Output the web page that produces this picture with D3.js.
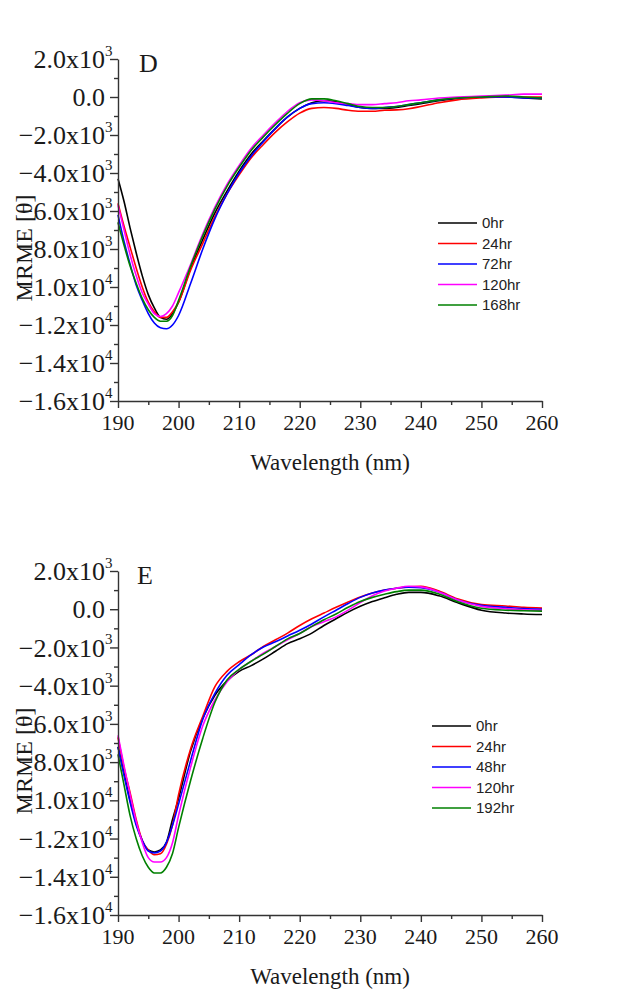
<!DOCTYPE html>
<html>
<head>
<meta charset="utf-8">
<script src="https://cdn.jsdelivr.net/npm/d3@7"></script>
<style>
  body { margin: 0; background: #fff; }
  .axis path, .axis line { stroke: #333; stroke-width: 1.4; }
  .tick-label { font-family: "Liberation Serif", "Times New Roman", serif; fill: #1a1a1a; }
  .legend text { font-family: "Liberation Sans", Arial, sans-serif; font-size: 15px; fill: #222; }
</style>
</head>
<body>
<div id="chart"></div>
<script>
// wavelength grid (nm), shared by both panels
const wavelength = [190,191,192,193,194,195,196,197,198,199,200,202,204,206,208,210,212,214,216,218,220,222,224,226,228,230,232,234,236,238,240,243,246,250,254,257,260];

// panel D
const dLabels = ["0hr", "24hr", "72hr", "120hr", "168hr"];
const d0hr   = [-4300,-5500,-6900,-8200,-9400,-10400,-11100,-11600,-11700,-11400,-10800,-9000,-7500,-6100,-4950,-3900,-3000,-2300,-1650,-1050,-600,-300,-200,-250,-400,-550,-600,-600,-550,-450,-350,-200,-80,0,0,-50,-100];
const d24hr  = [-5600,-6800,-7900,-9000,-10000,-10800,-11300,-11600,-11600,-11300,-10800,-9100,-7700,-6300,-5100,-4100,-3200,-2500,-1850,-1300,-850,-600,-550,-600,-700,-750,-750,-700,-680,-620,-500,-300,-150,-50,0,0,0];
const d72hr  = [-6200,-7600,-8800,-9900,-10700,-11400,-11900,-12150,-12200,-12000,-11500,-9800,-8000,-6400,-5100,-4000,-3100,-2350,-1650,-1050,-600,-350,-300,-350,-450,-550,-600,-550,-500,-400,-300,-150,-50,0,0,-50,-50];
const d120hr = [-5700,-7000,-8300,-9400,-10300,-10900,-11400,-11550,-11400,-11000,-10300,-8800,-7200,-5800,-4600,-3600,-2700,-2000,-1350,-750,-300,-150,-200,-300,-350,-400,-400,-350,-300,-200,-150,-50,0,50,100,150,150];
const d168hr = [-6600,-7800,-8900,-9800,-10600,-11200,-11600,-11800,-11800,-11500,-10700,-8900,-7300,-5900,-4700,-3700,-2800,-2100,-1450,-850,-350,-100,-100,-200,-350,-500,-550,-550,-500,-400,-300,-150,-50,0,50,0,-50];

// panel E
const eLabels = ["0hr", "24hr", "48hr", "120hr", "192hr"];
const e0hr   = [-7200,-8600,-10000,-11200,-12100,-12600,-12700,-12600,-12200,-11000,-9900,-7400,-5700,-4500,-3750,-3250,-2950,-2600,-2200,-1800,-1550,-1250,-850,-500,-150,150,400,600,780,880,880,700,350,-50,-200,-250,-280];
const e24hr  = [-6700,-8300,-9600,-11000,-12100,-12600,-12850,-12800,-12300,-11300,-9700,-7300,-5600,-4050,-3250,-2750,-2380,-1950,-1600,-1250,-850,-500,-200,100,380,640,850,1000,1100,1170,1200,950,550,250,170,100,60];
const e48hr  = [-7200,-8700,-10100,-11300,-12100,-12650,-12750,-12650,-12200,-11300,-10200,-7900,-5750,-4400,-3450,-2900,-2380,-1980,-1700,-1400,-1100,-770,-400,-50,300,620,850,1000,1100,1150,1130,900,500,200,100,30,0];
const e120hr = [-6600,-8200,-9700,-11100,-12200,-13000,-13230,-13230,-13000,-12220,-10790,-8250,-6100,-4750,-3800,-3150,-2720,-2300,-1950,-1600,-1270,-900,-650,-400,-50,350,700,950,1100,1200,1170,900,500,150,30,-30,-50];
const e192hr = [-7600,-9200,-10800,-12000,-12900,-13500,-13800,-13800,-13500,-12780,-11430,-8950,-6750,-4870,-3700,-3150,-2720,-2350,-1950,-1550,-1270,-900,-550,-250,100,400,620,780,920,1000,1000,800,400,50,-50,-80,-100];

const seriesColors = ["#000000", "#ff0000", "#0000ff", "#ff00ff", "#008000"];

// axis ticks
const xTicks = [190,200,210,220,230,240,250,260];
const xMinor = [195,205,215,225,235,245,255];
const yTicks = [2000,0,-2000,-4000,-6000,-8000,-10000,-12000,-14000,-16000];
const yMinor = [1000,-1000,-3000,-5000,-7000,-9000,-11000,-13000,-15000];
const yTickMantissa = ["2.0","0.0","\u22122.0","\u22124.0","\u22126.0","\u22128.0","\u22121.0","\u22121.2","\u22121.4","\u22121.6"];
const yTickExp = ["3","","3","3","3","3","4","4","4","4"];

const W = 621, H = 990;
const svg = d3.select("#chart").append("svg").attr("width", W).attr("height", H);

function drawPanel(cfg) {
  const x = d3.scaleLinear().domain([190, 260]).range([118, 542]);
  const y = d3.scaleLinear().domain([-16000, 2000]).range([cfg.bottom, cfg.top]);
  const g = svg.append("g");

  // curves
  const line = d3.line()
    .x((d, i) => x(wavelength[i]))
    .y(d => y(d))
    .curve(d3.curveMonotoneX);

  cfg.series.forEach((s, i) => {
    g.append("path")
      .datum(s)
      .attr("fill", "none")
      .attr("stroke", seriesColors[i])
      .attr("stroke-width", 1.6)
      .attr("d", line);
  });

  // x axis
  g.append("g").attr("class", "axis")
    .attr("transform", `translate(0,${cfg.bottom})`)
    .call(d3.axisBottom(x).tickValues(xTicks).tickSize(7).tickSizeOuter(0).tickFormat(""));
  g.append("g").attr("class", "axis")
    .attr("transform", `translate(0,${cfg.bottom})`)
    .call(d3.axisBottom(x).tickValues(xMinor).tickSize(4).tickFormat(""))
    .select(".domain").remove();

  g.selectAll(".xlab")
    .data(xTicks)
    .enter().append("text")
    .attr("class", "tick-label")
    .attr("x", d => x(d))
    .attr("y", cfg.bottom + 29)
    .attr("text-anchor", "middle")
    .attr("font-size", 22)
    .text(d => d);

  // y axis
  g.append("g").attr("class", "axis")
    .attr("transform", "translate(118,0)")
    .call(d3.axisLeft(y).tickValues(yTicks).tickSize(8).tickSizeOuter(0).tickFormat(""));
  g.append("g").attr("class", "axis")
    .attr("transform", "translate(118,0)")
    .call(d3.axisLeft(y).tickValues(yMinor).tickSize(4).tickFormat(""))
    .select(".domain").remove();

  yTicks.forEach((v, i) => {
    g.append("text")
      .attr("class", "tick-label")
      .attr("x", 105)
      .attr("y", y(v))
      .attr("dy", "0.35em")
      .attr("text-anchor", "end")
      .attr("font-size", 26)
      .text(yTickMantissa[i] + (yTickExp[i] ? "x10" : ""));
    if (yTickExp[i]) {
      g.append("text")
        .attr("class", "tick-label")
        .attr("x", 105)
        .attr("y", y(v) - 3)
        .attr("font-size", 15)
        .text(yTickExp[i]);
    }
  });

  // axis titles
  g.append("text")
    .attr("class", "tick-label")
    .attr("x", 330)
    .attr("y", cfg.bottom + 69)
    .attr("text-anchor", "middle")
    .attr("font-size", 23)
    .text("Wavelength (nm)");

  g.append("text")
    .attr("class", "tick-label")
    .attr("transform", `translate(32,${(cfg.top + cfg.bottom) / 2 + 18}) rotate(-90)`)
    .attr("text-anchor", "middle")
    .attr("font-size", 24)
    .text("MRME [\u03b8]");

  // panel letter
  g.append("text")
    .attr("class", "tick-label")
    .attr("x", cfg.letterX)
    .attr("y", cfg.top + 13)
    .attr("font-size", 26)
    .text(cfg.letter);

  // legend
  const lg = g.append("g").attr("class", "legend");
  cfg.labels.forEach((lab, i) => {
    const ly = cfg.legendY + i * 20.5;
    lg.append("line")
      .attr("x1", cfg.legendX).attr("x2", cfg.legendX + 39)
      .attr("y1", ly).attr("y2", ly)
      .attr("stroke", seriesColors[i]).attr("stroke-width", 1.6);
    lg.append("text")
      .attr("x", cfg.legendX + 44)
      .attr("y", ly)
      .attr("dy", "0.35em")
      .text(lab);
  });
}

drawPanel({
  top: 59, bottom: 401, letter: "D", letterX: 139,
  series: [d0hr, d24hr, d72hr, d120hr, d168hr],
  labels: dLabels, legendX: 438, legendY: 223
});

drawPanel({
  top: 571, bottom: 915, letter: "E", letterX: 137,
  series: [e0hr, e24hr, e48hr, e120hr, e192hr],
  labels: eLabels, legendX: 432, legendY: 726
});
</script>
</body>
</html>
